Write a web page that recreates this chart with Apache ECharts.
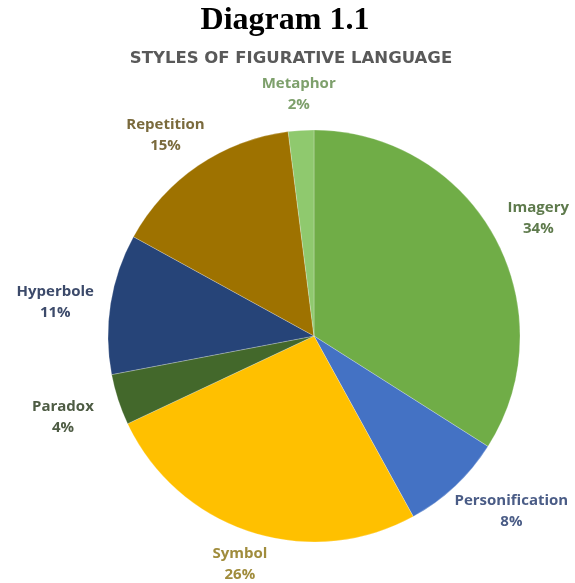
<!DOCTYPE html>
<html><head><meta charset="utf-8">
<script src="https://cdn.jsdelivr.net/npm/echarts@6/dist/echarts.min.js"></script>
<style>html,body{margin:0;padding:0;background:#fff;}#c{width:575px;height:583px;}</style>
</head><body><div id="c"></div>
<script>
const categories = ["Imagery","Personification","Symbol","Paradox","Hyperbole","Repetition","Metaphor"];
const values = [34, 8, 26, 4, 11, 15, 2];
const sliceColors = ["#70AD47","#4472C4","#FFC000","#43682B","#264478","#9E7200","#8FC96E"];
const labelColors = ["#5E7A4C","#4A5C86","#A08C3C","#4E5C44","#3C4A6A","#7A6A3C","#7EA06C"];

const cx = 314, cy = 336, R = 206;
const labelR = [256,262,240,264,262,250,244];
const labelDX = [0,18,0,0,0,-8,0];
const labelDY = [6,-16,0,0,7,6,2];
const total = values.reduce((a,b)=>a+b,0);
const mids = [];
let acc = 0;
values.forEach(v=>{ mids.push((acc + v/2)/total*2*Math.PI); acc += v; });

const chart = echarts.init(document.getElementById('c'));
chart.setOption({
  animation:false,
  title:[
    {text:'Diagram 1.1', left:280, textAlign:'center', top:0, textStyle:{fontFamily:'Liberation Serif', fontWeight:'bold', fontSize:32, color:'#000'}},
    {text:'STYLES OF FIGURATIVE LANGUAGE', left:286, textAlign:'center', top:45, textStyle:{fontFamily:'DejaVu Sans', fontWeight:'bold', fontSize:16.5, color:'#595959'}}
  ],
  series:[{
    type:'pie',
    center:[cx,cy],
    radius:[0,R],
    startAngle:90,
    clockwise:true,
    data: categories.map((n,i)=>({name:n, value:values[i], itemStyle:{color:sliceColors[i]}, label:{color:labelColors[i]}})),
    itemStyle:{borderColor:'rgba(255,255,255,0.4)', borderWidth:0.6},
    label:{show:true, position:'outside', overflow:'none', formatter:'{b}\n{d}%', fontFamily:'Open Sans', fontWeight:'bold', fontSize:15, lineHeight:21, align:'center'},
    labelLine:{show:false},
    labelLayout:function(p){
      const i = p.dataIndex, a = mids[i];
      return {x: cx + labelR[i]*Math.sin(a) + labelDX[i], y: cy - labelR[i]*Math.cos(a) + labelDY[i], align:'center', verticalAlign:'middle'};
    }
  }]
});
</script></body></html>
